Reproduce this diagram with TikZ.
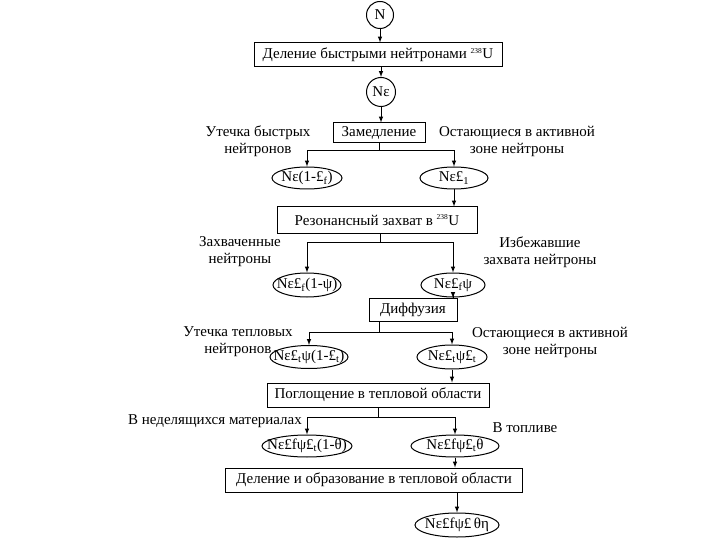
\documentclass[tikz,border=0pt]{standalone}
\usepackage{fontspec}
\setmainfont{Liberation Serif}
\usetikzlibrary{shapes.geometric}

% Text im Oval ohne eigene Breite
\newcommand{\zentriert}[1]{\makebox[0pt]{#1}}
\newcommand{\iso}{\textsuperscript{\fontsize{7.5}{7.5}\selectfont 238}}

\begin{document}
\begin{tikzpicture}[x=1pt,y=-1pt,
    font=\fontsize{15}{17}\selectfont,
    line width=1pt,
    >=latex % Pfeilspitzen
    ]
    \useasboundingbox (0,0) rectangle (720,540);

    \tikzset{
        Kasten/.style={draw,rectangle,inner sep=0pt,minimum width=#1}, % für Vorgänge
        Kreis/.style={draw,circle,inner sep=0pt,minimum size=#1},
        Oval/.style={draw,ellipse,inner sep=0pt,minimum width=#1},
        Pfeil/.style={->}, % für Pfeile
        Notiz/.style={align=center,inner sep=0pt} % für Beschriftungen
    }

    % Kreise, Kästen
    \node[Kreis=27pt] (N) at (380,15) {N};
    \node[Kasten=248pt, minimum height=24pt] (B1) at (378,55)
        {Деление быстрыми нейтронами \iso U};
    \node[Kreis=29pt] (Ne) at (381,92) {Nε};
    \node[Kasten=92pt, minimum height=20pt] (B2) at (379,133) {Замедление};
    \node[Kasten=200pt, minimum height=26pt] (B3) at (377,220)
        {Резонансный захват в \iso U};
    \node[Kasten=88pt, minimum height=23pt] (B4) at (413,310) {Диффузия};
    \node[Kasten=222pt, minimum height=24pt] (B5) at (378,395) {Поглощение в тепловой области};
    \node[Kasten=297pt, minimum height=24pt] (B6) at (374,480)
        {Деление и образование в тепловой области};

    % Ovale
    \node[Oval=70pt, minimum height=22pt] (O11) at (307,178) {\zentriert{Nε(1-£\textsubscript{f})}};
    \node[Oval=68pt, minimum height=22pt] (O12) at (454,178) {\zentriert{Nε£\textsubscript{1}}};
    \node[Oval=68pt, minimum height=24pt] (O21) at (307,285) {\zentriert{Nε£\textsubscript{f}(1-ψ)}};
    \node[Oval=64pt, minimum height=24pt] (O22) at (453,285) {\zentriert{Nε£\textsubscript{f}ψ}};
    \node[Oval=78pt, minimum height=23pt] (O31) at (309,357) {\zentriert{Nε£\textsubscript{t}ψ(1-£\textsubscript{t})}};
    \node[Oval=70pt, minimum height=24pt] (O32) at (452,357) {\zentriert{Nε£\textsubscript{t}ψ£\textsubscript{t}}};
    \node[Oval=90pt, minimum height=22pt] (O41) at (307,446) {\zentriert{Nε£fψ£\textsubscript{t}(1-θ)}};
    \node[Oval=88pt, minimum height=22pt] (O42) at (455,446) {\zentriert{Nε£fψ£\textsubscript{t}θ}};
    \node[Oval=84pt, minimum height=24pt] (O5) at (457,525) {\zentriert{Nε£fψ£\,θη}};

    % Verzweigungen
    \coordinate (S1) at (379,151);
    \coordinate (S2) at (380,242);
    \coordinate (S3) at (379,332);
    \coordinate (S4) at (378,417);

    % Pfeile
    \draw[Pfeil] (N) -- (N |- B1.north);
    \draw[Pfeil] (Ne |- B1.south) -- (Ne);
    \draw[Pfeil] (Ne) -- (Ne |- B2.north);

    \draw[Pfeil] (S1 |- B2.south) -- (S1) -| (O11);
    \draw[Pfeil] (S1) -| (O12);
    \draw[Pfeil] (O12) -- (O12 |- B3.north);

    \draw[Pfeil] (S2 |- B3.south) -- (S2) -| (O21);
    \draw[Pfeil] (S2) -| (O22);
    \draw[Pfeil] (O22) -- (O22 |- B4.north);

    \draw[Pfeil] (S3 |- B4.south) -- (S3) -| (O31);
    \draw[Pfeil] (S3) -| (O32);
    \draw[Pfeil] (O32) -- (O32 |- B5.north);

    \draw[Pfeil] (S4 |- B5.south) -- (S4) -| (O41);
    \draw[Pfeil] (S4) -| (O42);
    \draw[Pfeil] (O42) -- (O42 |- B6.north);
    \draw[Pfeil] (O5 |- B6.south) -- (O5);

    % Beschriftungen
    \node[Notiz] (T11) at (258,141) {Утечка быстрых\\нейтронов};
    \node[Notiz] (T12) at (517,141) {Остающиеся в активной\\зоне нейтроны};
    \node[Notiz] (T21) at (240,252) {Захваченные\\нейтроны};
    \node[Notiz] (T22) at (540,252) {Избежавшие\\захвата нейтроны};
    \node[Notiz] (T31) at (238,342) {Утечка тепловых\\нейтронов};
    \node[Notiz] (T32) at (550,342) {Остающиеся в активной\\зоне нейтроны};
    \node[Notiz] (T41) at (215,421) {В неделящихся материалах};
    \node[Notiz] (T42) at (525,428) {В топливе};
\end{tikzpicture}
\end{document}
